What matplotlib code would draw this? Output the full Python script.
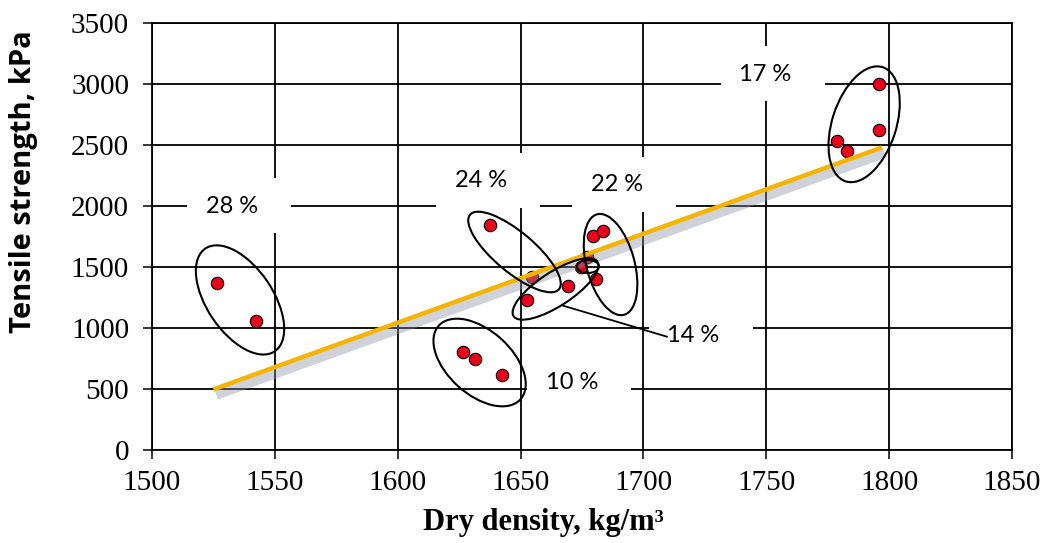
import matplotlib
matplotlib.use("Agg")
import matplotlib.pyplot as plt
import matplotlib.patheffects as pe
from matplotlib.patches import Ellipse, Rectangle
from matplotlib.transforms import ScaledTranslation

# measured points (dry density kg/m3, tensile strength kPa)
density = [1526.5, 1542.3,                      # 28 %
           1626.5, 1631.5, 1642.3,              # 10 %
           1637.6, 1654.5, 1652.5, 1669.4,      # 24 % / 14 %
           1674.5, 1680.7, 1679.4, 1683.7, 1676.9,
           1778.7, 1782.7, 1795.9, 1795.9]      # 17 %
strength = [1369, 1057,
            806, 748, 615,
            1844, 1420, 1230, 1344,
            1497, 1402, 1754, 1795, 1584,
            2535, 2453, 2623, 3000]

# trend line end points
trend_x = [1525, 1797]
trend_y = [497, 2480]

# group labels: text, centre of label
labels = ["28 %", "24 %", "22 %", "17 %", "10 %", "14 %"]
label_x = [1532.6, 1633.9, 1689.3, 1749.7, 1670.9, 1720.4]
label_y = [2000, 2205, 2176, 3082, 553, 939]

# group ellipses: centre (data), width/height in pixels, angle
ell_x = [1535.8, 1633.3, 1647.5, 1664.2, 1686.6, 1789.8, 1677.4]
ell_y = [1230, 717, 1623, 1320, 1520, 2670, 1504]
ell_w = [124, 110, 116, 100, 104, 120, 22]
ell_h = [66, 64, 40, 34, 48, 64, 13]
ell_a = [-56, -42, -40, 33, -75, 72, 0]

fig = plt.figure(figsize=(10.45, 5.43), dpi=100)
ax = fig.add_axes([0.1455, 0.1713, 0.8230, 0.7863])

ax.set_xlim(1500, 1850)
ax.set_ylim(0, 3500)
ax.set_xticks(range(1500, 1851, 50))
ax.set_yticks(range(0, 3501, 500))
ax.set_axisbelow(True)
ax.grid(True, color="black", linewidth=1.3)
for s in ax.spines.values():
    s.set_linewidth(1.3)
ax.tick_params(direction="out", length=6.5, width=1.1)
ax.tick_params(axis="y", pad=10)
ax.tick_params(axis="x", pad=8)
for t in ax.get_yticklabels():
    t.set_fontfamily("Liberation Serif")
    t.set_fontsize(21)
for t in ax.get_xticklabels():
    t.set_fontfamily("Liberation Serif")
    t.set_fontsize(21)

ax.set_xlabel("Dry density, kg/m³", family="Liberation Serif", weight="bold",
              fontsize=22)
ax.xaxis.set_label_coords(0.455, -0.135)
ax.set_ylabel("Tensile strength, kPa", family="Open Sans", weight="bold",
              fontsize=21)
ax.yaxis.set_label_coords(-0.133, 0.628)


def px_at(x, y):
    # transform giving pixel offsets around a data point
    return ScaledTranslation(x, y, ax.transData)


# white boxes behind the labels hide the grid
for txt, x, y in zip(labels, label_x, label_y):
    ax.add_patch(Rectangle((-45, -27), 104, 55, transform=px_at(x, y),
                           facecolor="white", edgecolor="none", zorder=1))
    ax.text(x, y, txt, ha="center", va="center", fontsize=17,
            family="Lato", zorder=6)

# leader line for 14 %
ax.plot([1667.3, 1709.5], [1183, 929], color="black", lw=1.3, zorder=5)

ax.scatter(density, strength, s=80, color="#e8001c", edgecolor="black",
           linewidth=0.8, zorder=3)

ax.plot(trend_x, trend_y, color="#f5b400", lw=3.2, solid_capstyle="butt", zorder=4,
        path_effects=[pe.SimpleLineShadow(offset=(2, -4), shadow_color="#8a8fa0",
                                          alpha=0.4, linewidth=7),
                      pe.Normal()])

for x, y, w, h, a in zip(ell_x, ell_y, ell_w, ell_h, ell_a):
    ax.add_patch(Ellipse((0, 0), w, h, angle=a, transform=px_at(x, y),
                         fill=False, edgecolor="black", lw=1.5, zorder=5))

fig.savefig("out.png", dpi=100, facecolor="white")
